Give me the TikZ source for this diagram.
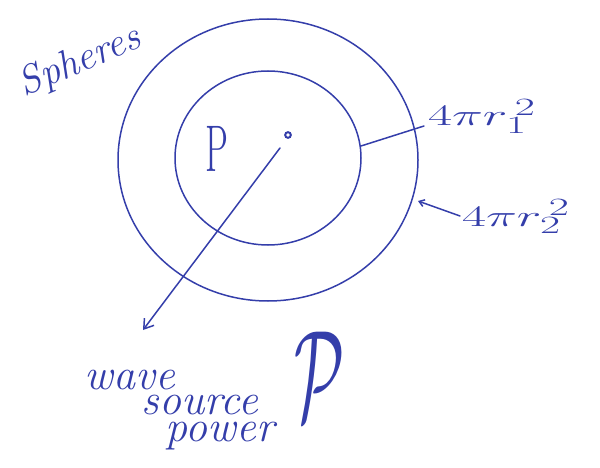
\documentclass[tikz,border=0pt]{standalone}
\usetikzlibrary{arrows.meta}
\definecolor{ink}{RGB}{52,62,170}
\begin{document}
\begin{tikzpicture}[x=1pt,y=-1pt,
  pen/.style={draw=ink,line width=1.5pt,line cap=round},
  lbl/.style={text=ink,inner sep=0pt},
  hand/.style={lbl,font=\itshape\fontsize{44}{46}\selectfont}]
\useasboundingbox (0,0) rectangle (600,468);
% spheres
\draw[pen] (268,160) ellipse [x radius=150, y radius=141];
\draw[pen] (268,158) ellipse [x radius=93, y radius=87];
\coordinate (inR) at (361,146);
\coordinate (outR) at (418,201);
\coordinate (l1end) at (424,126);
\coordinate (l2end) at (460,216);
% point source
\node[circle,draw=ink,line width=2pt,inner sep=2pt] (src) at (288,135) {};
\node[lbl] (P) at (217,149) {\scalebox{0.55}[1]{\fontsize{66}{68}\selectfont P}};
% arrow
\coordinate (astart) at (280,148);
\coordinate (aend) at (143,330);
\draw[pen,-{Straight Barb[length=9pt,width=12pt]}] (astart) -- (aend);
% labels
\node[lbl,anchor=base west] (l1) at (428,126) {\scalebox{2.1}[1.2]{\fontsize{24.88}{30}\selectfont$4\pi r_1^{\,2}$}};
\node[lbl,anchor=base west] (l2) at (462,226) {\scalebox{2.1}[1.2]{\fontsize{24.88}{30}\selectfont$4\pi r_2^{\,2}$}};
\draw[pen] (inR) -- (l1end);
\draw[pen,{Straight Barb[length=5pt,width=7pt]}-] (outR) -- (l2end);
\node[lbl,rotate=23,font=\itshape\fontsize{40}{42}\selectfont] (sph) at (80,62) {Spheres};
\node[hand] (w1) at (130,380) {wave};
\node[hand] (w2) at (200,405) {source};
\node[hand] (w3) at (220,436) {power};
\node[lbl] (sym) at (320,376) {\scalebox{2.6}[5.2]{\fontsize{24.88}{30}\selectfont$\mathcal{P}$}};
\end{tikzpicture}
\end{document}
